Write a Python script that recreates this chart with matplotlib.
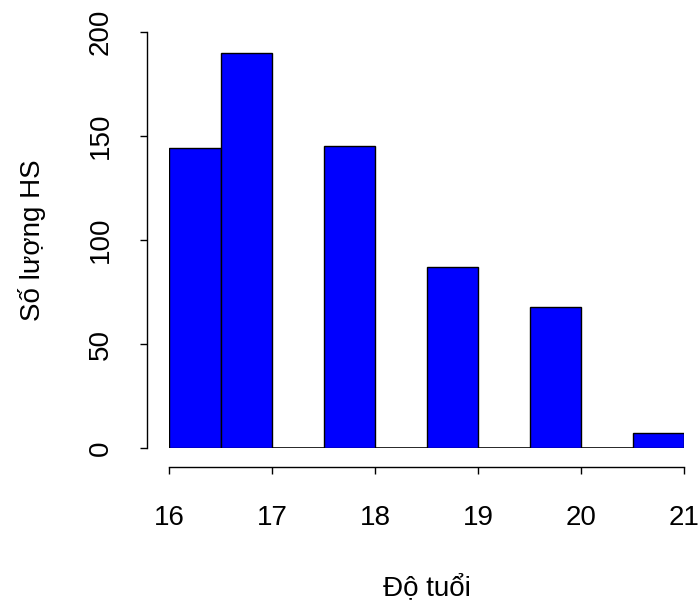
import matplotlib
matplotlib.use("Agg")
import matplotlib.pyplot as plt

# histogram bins (left edges, width 0.5) and counts
bin_left = [16.0, 16.5, 17.0, 17.5, 18.0, 18.5, 19.0, 19.5, 20.0, 20.5]
counts = [144, 190, 0, 145, 0, 87, 0, 68, 0, 7]
x_ticks = [16, 17, 18, 19, 20, 21]
y_ticks = [0, 50, 100, 150, 200]
x_label = "Độ tuổi"
y_label = "Số lượng HS"

plt.rcParams['font.family'] = ['Liberation Sans', 'DejaVu Sans']
W, H = 699, 603
DPI = 100
fig = plt.figure(figsize=(W / DPI, H / DPI), dpi=DPI)

# plot region in pixels: x 16->169, 21->684 ; y 0->448, 200->32 (from top)
x0, x1 = 169, 684
ytop, ybot = 32, 448
ax = fig.add_axes([x0 / W, 1 - ybot / H, (x1 - x0) / W, (ybot - ytop) / H])

ax.bar(bin_left, counts, width=0.5, align='edge', color='#0000FF',
       edgecolor='black', linewidth=1.0)
ax.axhline(0, color='#222222', linewidth=1.3, zorder=0.5)
ax.set_xlim(16, 21)
ax.set_ylim(0, 200)

for s in ['top', 'right']:
    ax.spines[s].set_visible(False)
px2pt = 72 / DPI
ax.spines['left'].set_position(('outward', 22 * px2pt))
ax.spines['bottom'].set_position(('outward', 19 * px2pt))
ax.spines['left'].set_bounds(0, 200)
ax.spines['bottom'].set_bounds(16, 21)
for s in ['left', 'bottom']:
    ax.spines[s].set_linewidth(1.0)
    ax.spines[s].set_color('black')

ax.set_xticks(x_ticks)
ax.set_yticks(y_ticks)
ax.set_yticklabels([str(v) for v in y_ticks], rotation=90, va='center')
ax.tick_params(axis='both', length=7 * px2pt, width=1.0, labelsize=20,
               colors='black')
ax.tick_params(axis='x', pad=22)
ax.tick_params(axis='y', pad=19)

fig.text((x0 + x1) / 2 / W, 1 - 588 / H, x_label, ha='center', va='center',
         fontsize=20)
fig.text(32 / W, 1 - (ytop + ybot) / 2 / H, y_label, ha='center', va='center',
         rotation=90, fontsize=20)

fig.savefig("out.png", dpi=DPI)
